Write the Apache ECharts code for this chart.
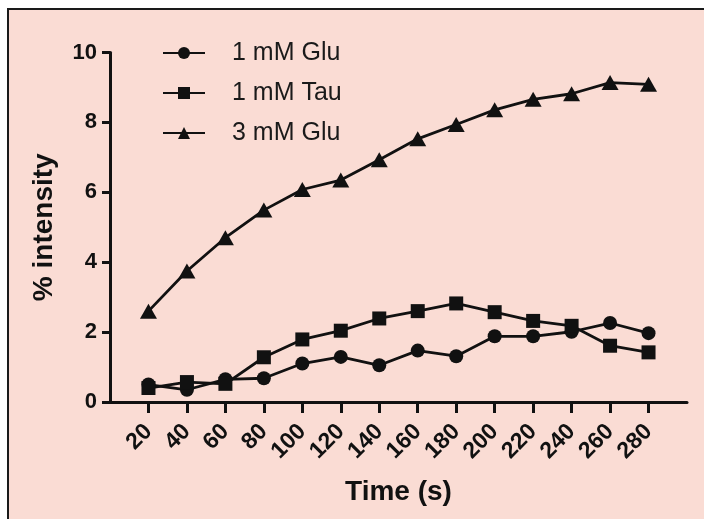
<!DOCTYPE html>
<html>
<head>
<meta charset="utf-8">
<script src="https://cdn.jsdelivr.net/npm/echarts@6/dist/echarts.min.js"></script>
<style>
html,body{margin:0;padding:0;background:#ffffff;}
#chart{width:704px;height:519px;}
</style>
</head>
<body>
<div id="chart"></div>
<script>
var times = [20, 40, 60, 80, 100, 120, 140, 160, 180, 200, 220, 240, 260, 280];
var glu1 = [0.50, 0.35, 0.65, 0.68, 1.10, 1.29, 1.05, 1.47, 1.31, 1.88, 1.88, 2.01, 2.26, 1.97];
var tau1 = [0.40, 0.57, 0.52, 1.28, 1.79, 2.04, 2.39, 2.60, 2.82, 2.57, 2.32, 2.18, 1.61, 1.42];
var glu3 = [2.60, 3.75, 4.70, 5.49, 6.08, 6.35, 6.93, 7.53, 7.94, 8.36, 8.66, 8.82, 9.14, 9.09];
var seriesNames = ['1 mM Glu', '1 mM Tau', '3 mM Glu'];
var yTicks = [0, 2, 4, 6, 8, 10];

function pairs(vals){ return times.map(function(t,i){ return [t, vals[i]]; }); }

var ink = '#111111';
var font = '"Liberation Sans", Arial, sans-serif';
var chart = echarts.init(document.getElementById('chart'));
chart.setOption({
  animation: false,
  backgroundColor: '#ffffff',
  graphic: [{
    type: 'rect', z: -10,
    shape: {x: 8, y: 9, width: 720, height: 530},
    style: {fill: '#fadcd4', stroke: '#1a1a1a', lineWidth: 2}
  }],
  grid: {left: 110, right: 17, top: 52.5, bottom: 117, containLabel: false},
  legend: {
    orient: 'vertical', left: 157, top: 35,
    itemWidth: 42, itemHeight: 15, itemGap: 14,
    data: seriesNames,
    textStyle: {fontFamily: font, fontSize: 25, color: '#1a1a1a', lineHeight: 26, padding: [0,0,0,22]}
  },
  xAxis: {
    type: 'value', min: 0, max: 300, interval: 20,
    name: 'Time (s)', nameLocation: 'middle', nameGap: 76,
    nameTextStyle: {fontFamily: font, fontSize: 28, fontWeight: 'bold', color: ink},
    axisLine: {lineStyle: {color: ink, width: 3}},
    axisTick: {length: 11, lineStyle: {color: ink, width: 3}, customValues: times},
    axisLabel: {customValues: times, rotate: 45, margin: 26, fontFamily: font, fontSize: 23, fontWeight: 'bold', color: ink},
    splitLine: {show: false}
  },
  yAxis: {
    type: 'value', min: 0, max: 10, interval: 2,
    name: '% intensity', nameLocation: 'middle', nameGap: 52, nameRotate: 90,
    nameTextStyle: {fontFamily: font, fontSize: 28, fontWeight: 'bold', color: ink},
    axisLine: {show: true, lineStyle: {color: ink, width: 3}},
    axisTick: {show: true, length: 8, lineStyle: {color: ink, width: 3}},
    axisLabel: {margin: 13, fontFamily: font, fontSize: 22, fontWeight: 'bold', color: ink},
    splitLine: {show: false}
  },
  series: [
    {name: seriesNames[0], type: 'line', data: pairs(glu1), symbol: 'circle', symbolSize: 14,
     itemStyle: {color: ink}, lineStyle: {color: ink, width: 2.8}, z: 3},
    {name: seriesNames[1], type: 'line', data: pairs(tau1), symbol: 'rect', symbolSize: 14,
     itemStyle: {color: ink}, lineStyle: {color: ink, width: 2.8}, z: 4},
    {name: seriesNames[2], type: 'line', data: pairs(glu3), symbol: 'triangle', symbolSize: [17, 15],
     itemStyle: {color: ink}, lineStyle: {color: ink, width: 2.8}, z: 5}
  ]
});
</script>
</body>
</html>
